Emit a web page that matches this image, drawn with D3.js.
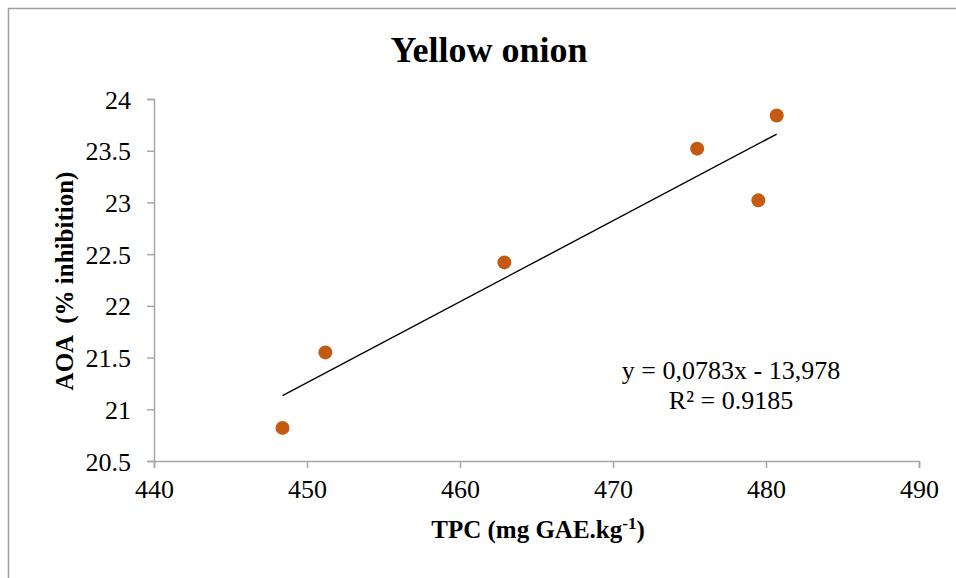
<!DOCTYPE html>
<html><head><meta charset="utf-8">
<script src="https://cdn.jsdelivr.net/npm/d3@7"></script>
<style>body{margin:0;background:#fff}svg{display:block}</style>
</head><body>
<svg id="c" width="956" height="578"></svg>
<script>
const title = "Yellow onion";
const tpc = [448.4, 451.2, 462.9, 475.5, 479.5, 480.7];
const aoa = [20.82, 21.55, 22.42, 23.52, 23.02, 23.84];
const xTicks = [440, 450, 460, 470, 480, 490];
const yTicks = [20.5, 21, 21.5, 22, 22.5, 23, 23.5, 24];
const slope = 0.0783, intercept = -13.978;
const eqLabels = ["y = 0,0783x - 13,978", "R² = 0.9185"];

const FONT = "'Liberation Serif', 'Tinos', 'Times New Roman', 'DejaVu Serif', serif";
const svg = d3.select("#c").style("font-family", FONT);
// outer frame
svg.append("rect").attr("x",8.5).attr("y",8.5).attr("width",1200).attr("height",1000)
  .attr("fill","none").attr("stroke","#a0a0a0").attr("stroke-width",1.5);

const x = d3.scaleLinear().domain([440,490]).range([154,919]);
const y = d3.scaleLinear().domain([20.5,24]).range([461,99]);
const axisColor = "#a6a6a6";

const xa = svg.append("g").attr("transform","translate(0,461)")
  .call(d3.axisBottom(x).tickValues(xTicks).tickSize(7).tickPadding(12).tickFormat(d3.format("d")));
const ya = svg.append("g").attr("transform","translate(154,0)")
  .call(d3.axisLeft(y).tickValues(yTicks).tickSize(7).tickPadding(16).tickFormat(d=>String(d)));
[xa,ya].forEach(g=>{
  g.attr("font-family", null).attr("font-size", null);
  g.select(".domain").attr("stroke",axisColor).attr("stroke-width",1.5);
  g.selectAll(".tick line").attr("stroke",axisColor).attr("stroke-width",1.5);
  g.selectAll(".tick text").style("font-family",FONT).style("font-size","26px").attr("fill","#000");
});
ya.selectAll(".tick text").attr("dy","0.35em");

// trendline
const x0 = d3.min(tpc), x1 = d3.max(tpc);
svg.append("line")
  .attr("x1",x(x0)).attr("y1",y(slope*x0+intercept))
  .attr("x2",x(x1)).attr("y2",y(slope*x1+intercept))
  .attr("stroke","#000").attr("stroke-width",1.4);

// points
svg.append("g").selectAll("circle").data(tpc.map((v,i)=>[v,aoa[i]])).join("circle")
  .attr("cx",d=>x(d[0])).attr("cy",d=>y(d[1])).attr("r",7).attr("fill","#c55a11");

// title
svg.append("text").attr("x",489).attr("y",62).attr("text-anchor","middle")
  .style("font-family",FONT).style("font-size","36px").style("font-weight","bold").text(title);

// equation
eqLabels.forEach((t,i)=>{
  svg.append("text").attr("x",731).attr("y",379+i*30).attr("text-anchor","middle")
    .style("font-family",FONT).style("font-size","26px").text(t);
});

// x title
const xt = svg.append("text").attr("x",538).attr("y",538).attr("text-anchor","middle")
  .style("font-family",FONT).style("font-size","25px").style("font-weight","bold");
xt.append("tspan").text("TPC (mg GAE.kg");
xt.append("tspan").style("font-size","17px").attr("dy",-9).text("-1");
xt.append("tspan").attr("dy",9).text(")");

// y title
svg.append("text").attr("transform","translate(73,281) rotate(-90)").attr("text-anchor","middle")
  .style("font-family",FONT).style("font-size","25px").style("font-weight","bold")
  .style("white-space","pre").text("AOA  (% inhibition)");
</script>
</body></html>
